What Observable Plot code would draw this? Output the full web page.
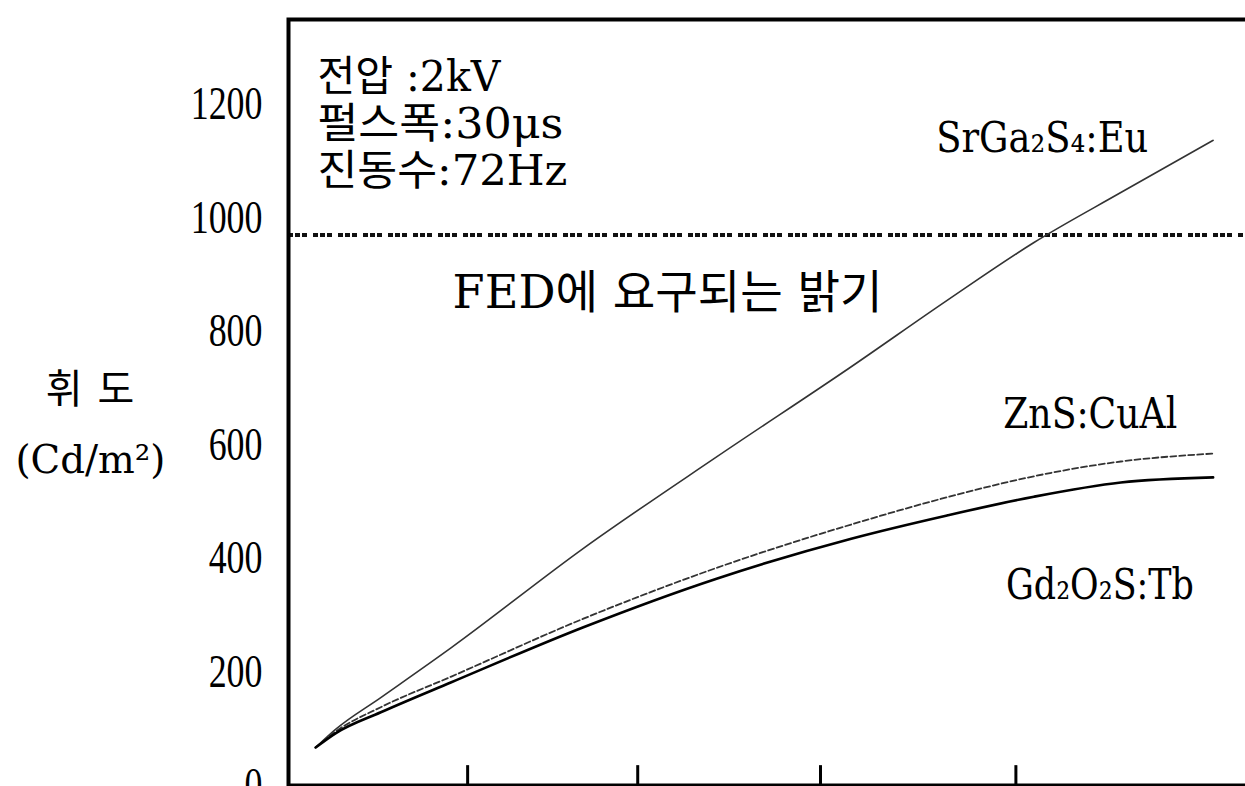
<!DOCTYPE html>
<html><head><meta charset="utf-8">
<script src="https://cdn.jsdelivr.net/npm/d3@7"></script>
<script src="https://cdn.jsdelivr.net/npm/@observablehq/plot@0.6"></script>
<style>
html,body{margin:0;padding:0;background:#fff;}
</style>
</head><body><div id="chart"></div>
<script>
// ---- data ----
const xPoints   = [0.15, 0.26, 0.51, 0.90, 1.63, 2.37, 3.11, 3.64, 4.12, 4.60, 5.11];
const srGa2S4Eu = [67, 99, 155, 243, 418, 580, 738, 855, 957, 1045, 1137];
const znsCuAl   = [67, 95, 138, 192, 294, 384, 460, 508, 545, 571, 585];
const gd2O2STb  = [67, 92, 129, 182, 279, 365, 435, 476, 509, 534, 543];
const seriesNames = ["SrGa₂S₄:Eu", "ZnS:CuAl", "Gd₂O₂S:Tb"];
const yTicks = [0, 200, 400, 600, 800, 1000, 1200];
const xTicks = [0.99, 1.93, 2.94, 4.02];
const fedRequired = 970;
const fedLabel = "FED에 요구되는 밝기";
const conditionLines = ["전압 :2kV", "펄스폭:30μs", "진동수:72Hz"];
const yTitle = ["휘 도", "(Cd/m²)"];

const seriesValues = [srGa2S4Eu, znsCuAl, gd2O2STb];
const rows = seriesNames.flatMap((name, s) =>
  xPoints.map((x, i) => ({series: name, x, y: seriesValues[s][i]})));

const serifKr = "'DejaVu Serif', 'Noto Sans CJK KR', serif";
const kr = "'Noto Sans CJK KR', sans-serif";

const chart = Plot.plot({
  width: 1245,
  height: 786,
  marginLeft: 288,
  marginTop: 19,
  marginBottom: 1,
  marginRight: -2,
  style: {background: "#fff", color: "#000"},
  x: {domain: [0, 5.3], axis: null},
  y: {domain: [0, 1350], label: null},
  marks: [
    Plot.ruleY([fedRequired], {stroke: "#111", strokeWidth: 4, strokeDasharray: "5,2,5,2,5,6"}),
    Plot.line(rows.filter(d => d.series === seriesNames[0]),
      {x: "x", y: "y", curve: "monotone-x", stroke: "#333", strokeWidth: 1.6}),
    Plot.line(rows.filter(d => d.series === seriesNames[1]),
      {x: "x", y: "y", curve: "monotone-x", stroke: "#333", strokeWidth: 1.8, strokeDasharray: "6,3"}),
    Plot.line(rows.filter(d => d.series === seriesNames[2]),
      {x: "x", y: "y", curve: "monotone-x", stroke: "#000", strokeWidth: 2.6}),
    Plot.ruleX(xTicks, {x: d => d, y1: 0, y2: 35, stroke: "#000", strokeWidth: 3}),
    Plot.axisY(yTicks, {tickSize: 0, tickPadding: 26, fontSize: 46, tickFormat: d => String(d),
      fontFamily: "'Liberation Serif', serif", label: null}),
    Plot.frame({stroke: "#000", strokeWidth: 4}),
    // condition text
    Plot.text(conditionLines, {x: () => 0.16, y: (d, i) => 1248 - 83 * i, text: d => d,
      textAnchor: "start", fontSize: 42, fontFamily: serifKr}),
    // required brightness label
    Plot.text([fedLabel], {x: () => 0.907, y: () => 867, text: d => d,
      textAnchor: "start", fontSize: 46, fontFamily: serifKr}),
    // series labels
    Plot.text([seriesNames[0]], {x: () => 3.58, y: () => 1140, text: d => d, textAnchor: "start",
      fontSize: 42, fontFamily: serifKr}),
    Plot.text([seriesNames[1]], {x: () => 3.95, y: () => 654, text: d => d, textAnchor: "start",
      fontSize: 42, fontFamily: serifKr}),
    Plot.text([seriesNames[2]], {x: () => 3.965, y: () => 352, text: d => d, textAnchor: "start",
      fontSize: 42, fontFamily: serifKr}),
    // y title
    Plot.text([yTitle[0]], {frameAnchor: "left", dx: -197, y: () => 696, text: d => d,
      textAnchor: "middle", fontSize: 40, fontFamily: kr}),
    Plot.text([yTitle[1]], {frameAnchor: "left", dx: -198, y: () => 573, text: d => d,
      textAnchor: "middle", fontSize: 40, fontFamily: serifKr})
  ]
});
document.getElementById("chart").appendChild(chart);

// condensed look of the original typeface
chart.querySelectorAll('g[aria-label="y-axis tick label"] text').forEach(t => {
  const tr = t.getAttribute("transform");
  if (tr) t.setAttribute("transform", tr + " scale(0.78,1)");
  else {
    const x = +t.getAttribute("x") || 0, y = +t.getAttribute("y") || 0;
    t.removeAttribute("x"); t.removeAttribute("y");
    t.setAttribute("transform", `translate(${x},${y}) scale(0.78,1)`);
  }
});
const textWidths = new Map([
  [seriesNames[0], 212], [seriesNames[1], 174], [seriesNames[2], 188],
  [yTitle[1], 150], [fedLabel, 430],
  [conditionLines[0], 183], [conditionLines[1], 246], [conditionLines[2], 250]
]);
chart.querySelectorAll("text").forEach(t => {
  const w = textWidths.get(t.textContent);
  if (w) {
    t.setAttribute("textLength", w);
    t.setAttribute("lengthAdjust", "spacingAndGlyphs");
  }
  if (t.textContent === yTitle[0]) t.style.letterSpacing = "3px";
});
</script>
</body></html>
